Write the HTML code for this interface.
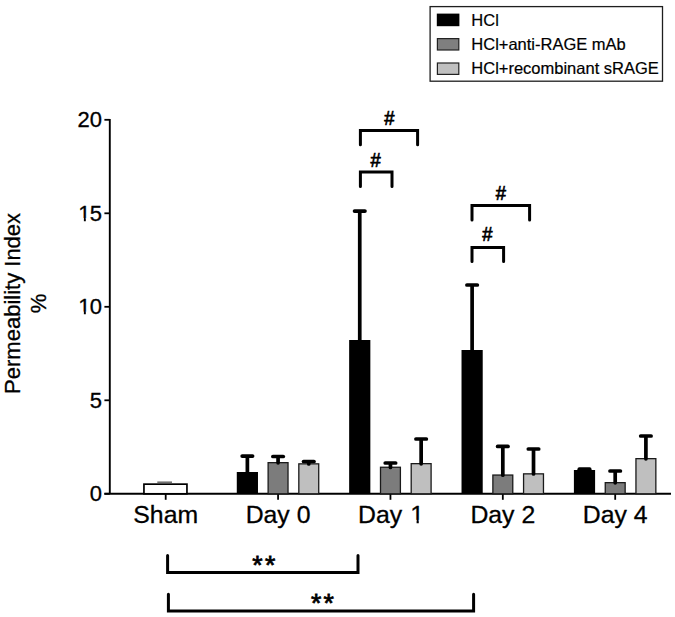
<!DOCTYPE html>
<html><head><meta charset="utf-8"><title>Permeability Index chart</title><style>
html,body{margin:0;padding:0;background:#fff;overflow:hidden;width:675px;height:617px;}
svg{display:block;}
text{font-family:"Liberation Sans",sans-serif;fill:#000;}
.tk{font-size:22px;stroke:#000;stroke-width:0.3px;}
.xl{font-size:24.8px;stroke:#000;stroke-width:0.3px;}
.yt{font-size:22px;stroke:#000;stroke-width:0.3px;}
.lg{font-size:16.5px;stroke:#000;stroke-width:0.2px;}
.hs{font-size:20px;stroke:#000;stroke-width:0.7px;}
.st{font-size:26.5px;letter-spacing:2.3px;stroke:#000;stroke-width:0.8px;}
</style></head><body>
<svg width="675" height="617" viewBox="0 0 675 617">
<rect width="675" height="617" fill="#fff"/>
<text x="102" y="501.10" text-anchor="end" class="tk">0</text>
<text x="102" y="407.60" text-anchor="end" class="tk">5</text>
<text x="78.329" y="314.10" class="tk">1</text>
<rect x="78.81" y="311.66" width="5.06" height="3.94" fill="#fff"/>
<rect x="85.81" y="311.66" width="4.88" height="3.94" fill="#fff"/>
<text x="102" y="314.10" text-anchor="end" class="tk">0</text>
<text x="78.329" y="220.60" class="tk">1</text>
<rect x="78.81" y="218.16" width="5.06" height="3.94" fill="#fff"/>
<rect x="85.81" y="218.16" width="4.88" height="3.94" fill="#fff"/>
<text x="102" y="220.60" text-anchor="end" class="tk">5</text>
<text x="102" y="127.10" text-anchor="end" class="tk">20</text>
<text x="165.70" y="522.5" text-anchor="middle" class="xl">Sham</text>
<text x="278.07" y="522.5" text-anchor="middle" class="xl">Day 0</text>
<text x="358.050" y="522.5" class="xl">Day</text>
<text x="410.342" y="522.5" class="xl">1</text>
<rect x="411.03" y="519.85" width="5.55" height="4.15" fill="#fff"/>
<rect x="418.77" y="519.85" width="5.35" height="4.15" fill="#fff"/>
<text x="502.82" y="522.5" text-anchor="middle" class="xl">Day 2</text>
<text x="615.20" y="522.5" text-anchor="middle" class="xl">Day 4</text>
<line x1="109.8" y1="118.90" x2="109.8" y2="493.8" stroke="#000" stroke-width="1.9"/>
<line x1="104.4" y1="493.80" x2="109.8" y2="493.80" stroke="#000" stroke-width="1.8"/>
<line x1="104.4" y1="400.30" x2="109.8" y2="400.30" stroke="#000" stroke-width="1.8"/>
<line x1="104.4" y1="306.80" x2="109.8" y2="306.80" stroke="#000" stroke-width="1.8"/>
<line x1="104.4" y1="213.30" x2="109.8" y2="213.30" stroke="#000" stroke-width="1.8"/>
<line x1="104.4" y1="119.80" x2="109.8" y2="119.80" stroke="#000" stroke-width="1.8"/>
<line x1="104.4" y1="493.8" x2="671" y2="493.8" stroke="#000" stroke-width="1.9"/>
<line x1="165.70" y1="493.8" x2="165.70" y2="499.8" stroke="#000" stroke-width="1.8"/>
<line x1="278.07" y1="493.8" x2="278.07" y2="499.8" stroke="#000" stroke-width="1.8"/>
<line x1="390.45" y1="493.8" x2="390.45" y2="499.8" stroke="#000" stroke-width="1.8"/>
<line x1="502.82" y1="493.8" x2="502.82" y2="499.8" stroke="#000" stroke-width="1.8"/>
<line x1="615.20" y1="493.8" x2="615.20" y2="499.8" stroke="#000" stroke-width="1.8"/>
<line x1="157.3" y1="482.2" x2="172" y2="482.2" stroke="#6a6a6a" stroke-width="1.5"/>
<rect x="143.95" y="484.15" width="43" height="9.65" fill="#fff" stroke="#000" stroke-width="1.7"/>
<rect x="236.78" y="472.00" width="21.2" height="21.80" fill="#000"/>
<line x1="247.38" y1="472.80" x2="247.38" y2="457.10" stroke="#000" stroke-width="3.7" stroke-linecap="round"/>
<line x1="242.18" y1="456.10" x2="252.57" y2="456.10" stroke="#000" stroke-width="3.7" stroke-linecap="round"/>
<rect x="268.12" y="462.65" width="19.90" height="31.15" fill="#7c7c7c" stroke="#1a1a1a" stroke-width="1.3"/>
<line x1="278.07" y1="462.80" x2="278.07" y2="457.50" stroke="#000" stroke-width="3.7" stroke-linecap="round"/>
<line x1="272.88" y1="456.50" x2="283.27" y2="456.50" stroke="#000" stroke-width="3.7" stroke-linecap="round"/>
<rect x="298.82" y="463.85" width="19.90" height="29.95" fill="#bfbfbf" stroke="#1a1a1a" stroke-width="1.3"/>
<line x1="308.77" y1="464.00" x2="308.77" y2="462.50" stroke="#000" stroke-width="3.7" stroke-linecap="round"/>
<line x1="303.57" y1="461.50" x2="313.97" y2="461.50" stroke="#000" stroke-width="3.7" stroke-linecap="round"/>
<rect x="349.15" y="340.00" width="21.2" height="153.80" fill="#000"/>
<line x1="359.75" y1="340.80" x2="359.75" y2="212.10" stroke="#000" stroke-width="3.7" stroke-linecap="round"/>
<line x1="354.55" y1="211.10" x2="364.95" y2="211.10" stroke="#000" stroke-width="3.7" stroke-linecap="round"/>
<rect x="380.50" y="467.25" width="19.90" height="26.55" fill="#7c7c7c" stroke="#1a1a1a" stroke-width="1.3"/>
<line x1="390.45" y1="467.40" x2="390.45" y2="464.00" stroke="#000" stroke-width="3.7" stroke-linecap="round"/>
<line x1="385.25" y1="463.00" x2="395.65" y2="463.00" stroke="#000" stroke-width="3.7" stroke-linecap="round"/>
<rect x="411.20" y="463.65" width="19.90" height="30.15" fill="#bfbfbf" stroke="#1a1a1a" stroke-width="1.3"/>
<line x1="421.15" y1="463.80" x2="421.15" y2="440.00" stroke="#000" stroke-width="3.7" stroke-linecap="round"/>
<line x1="415.95" y1="439.00" x2="426.35" y2="439.00" stroke="#000" stroke-width="3.7" stroke-linecap="round"/>
<rect x="461.52" y="350.00" width="21.2" height="143.80" fill="#000"/>
<line x1="472.12" y1="350.80" x2="472.12" y2="286.00" stroke="#000" stroke-width="3.7" stroke-linecap="round"/>
<line x1="466.93" y1="285.00" x2="477.32" y2="285.00" stroke="#000" stroke-width="3.7" stroke-linecap="round"/>
<rect x="492.87" y="475.05" width="19.90" height="18.75" fill="#7c7c7c" stroke="#1a1a1a" stroke-width="1.3"/>
<line x1="502.82" y1="475.20" x2="502.82" y2="447.40" stroke="#000" stroke-width="3.7" stroke-linecap="round"/>
<line x1="497.62" y1="446.40" x2="508.02" y2="446.40" stroke="#000" stroke-width="3.7" stroke-linecap="round"/>
<rect x="523.57" y="473.85" width="19.90" height="19.95" fill="#bfbfbf" stroke="#1a1a1a" stroke-width="1.3"/>
<line x1="533.52" y1="474.00" x2="533.52" y2="450.00" stroke="#000" stroke-width="3.7" stroke-linecap="round"/>
<line x1="528.32" y1="449.00" x2="538.73" y2="449.00" stroke="#000" stroke-width="3.7" stroke-linecap="round"/>
<rect x="573.90" y="470.00" width="21.2" height="23.80" fill="#000"/>
<line x1="584.50" y1="470.80" x2="584.50" y2="470.20" stroke="#000" stroke-width="3.7" stroke-linecap="round"/>
<line x1="579.30" y1="469.20" x2="589.70" y2="469.20" stroke="#000" stroke-width="3.7" stroke-linecap="round"/>
<rect x="605.25" y="482.65" width="19.90" height="11.15" fill="#7c7c7c" stroke="#1a1a1a" stroke-width="1.3"/>
<line x1="615.20" y1="482.80" x2="615.20" y2="472.00" stroke="#000" stroke-width="3.7" stroke-linecap="round"/>
<line x1="610.00" y1="471.00" x2="620.40" y2="471.00" stroke="#000" stroke-width="3.7" stroke-linecap="round"/>
<rect x="635.95" y="458.65" width="19.90" height="35.15" fill="#bfbfbf" stroke="#1a1a1a" stroke-width="1.3"/>
<line x1="645.90" y1="458.80" x2="645.90" y2="437.00" stroke="#000" stroke-width="3.7" stroke-linecap="round"/>
<line x1="640.70" y1="436.00" x2="651.10" y2="436.00" stroke="#000" stroke-width="3.7" stroke-linecap="round"/>
<path d="M360.4 144.7 V130.4 H417.6 V144.7" fill="none" stroke="#000" stroke-width="3" stroke-linecap="round"/>
<path d="M360.4 186.6 V172.1 H392 V186.6" fill="none" stroke="#000" stroke-width="3" stroke-linecap="round"/>
<path d="M472 220.0 V205.6 H529.6 V220.0" fill="none" stroke="#000" stroke-width="3" stroke-linecap="round"/>
<path d="M472 261.6 V247.5 H503.6 V261.6" fill="none" stroke="#000" stroke-width="3" stroke-linecap="round"/>
<text transform="translate(389.45,125.04) scale(0.92,1)" x="0" y="0" text-anchor="middle" class="hs">#</text>
<text transform="translate(375.50,166.54) scale(0.92,1)" x="0" y="0" text-anchor="middle" class="hs">#</text>
<text transform="translate(500.95,200.24) scale(0.92,1)" x="0" y="0" text-anchor="middle" class="hs">#</text>
<text transform="translate(487.25,241.44) scale(0.92,1)" x="0" y="0" text-anchor="middle" class="hs">#</text>
<path d="M167.6 555.6 V572.5 H358 V555.6" fill="none" stroke="#000" stroke-width="3" stroke-linecap="round"/>
<path d="M168.4 594.3 V611.0 H473.6 V594.3" fill="none" stroke="#000" stroke-width="3" stroke-linecap="round"/>
<text x="252.3" y="573.8" class="st">**</text>
<text x="311.0" y="612.1" class="st">**</text>
<text transform="translate(20.4,303.4) rotate(-90)" text-anchor="middle" class="yt">Permeability Index</text>
<text transform="translate(45.8,303.4) rotate(-90)" text-anchor="middle" class="yt">%</text>
<rect x="430.1" y="6.6" width="232.4" height="74.6" fill="#fff" stroke="#1e1e1e" stroke-width="1.3"/>
<rect x="436.8" y="13.6" width="22.6" height="12.6" fill="#000"/>
<text x="471.3" y="25.6" class="lg">HCl</text>
<rect x="437.4" y="38.6" width="21.4" height="11.4" fill="#7f7f7f" stroke="#222" stroke-width="1.2"/>
<text x="471.3" y="49.6" class="lg">HCl+anti-RAGE mAb</text>
<rect x="437.4" y="63.0" width="21.4" height="11.4" fill="#c0c0c0" stroke="#222" stroke-width="1.2"/>
<text x="471.3" y="74.0" class="lg">HCl+recombinant sRAGE</text>
</svg>
</body></html>
